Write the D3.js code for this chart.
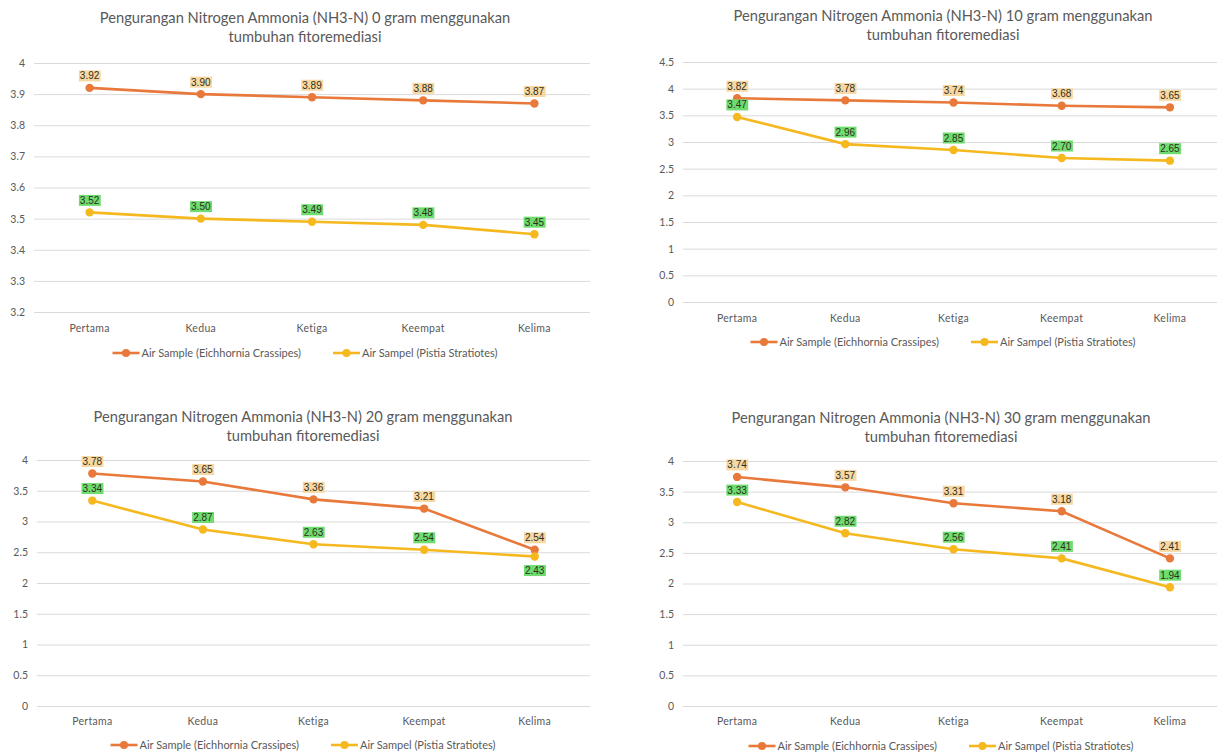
<!DOCTYPE html>
<html>
<head>
<meta charset="utf-8">
<script src="https://cdn.jsdelivr.net/npm/d3@7"></script>
<style>
  body { margin: 0; background: #fff; }
  svg { display: block; }
  text { font-family: Lato, "Open Sans", sans-serif; }
</style>
</head>
<body>
<svg id="chart"></svg>
<script>
// data
const categories = ["Pertama", "Kedua", "Ketiga", "Keempat", "Kelima"];
const seriesNames = ["Air Sample (Eichhornia Crassipes)", "Air Sampel (Pistia Stratiotes)"];
const doses = [0, 10, 20, 30];

const eichhornia0 = [3.92, 3.90, 3.89, 3.88, 3.87];
const pistia0 = [3.52, 3.50, 3.49, 3.48, 3.45];
const eichhornia10 = [3.82, 3.78, 3.74, 3.68, 3.65];
const pistia10 = [3.47, 2.96, 2.85, 2.70, 2.65];
const eichhornia20 = [3.78, 3.65, 3.36, 3.21, 2.54];
const pistia20 = [3.34, 2.87, 2.63, 2.54, 2.43];
const eichhornia30 = [3.74, 3.57, 3.31, 3.18, 2.41];
const pistia30 = [3.33, 2.82, 2.56, 2.41, 1.94];

const yTicks0 = [3.2, 3.3, 3.4, 3.5, 3.6, 3.7, 3.8, 3.9, 4];
const yTicks10 = [0, 0.5, 1, 1.5, 2, 2.5, 3, 3.5, 4, 4.5];
const yTicks20 = [0, 0.5, 1, 1.5, 2, 2.5, 3, 3.5, 4];
const yTicks30 = [0, 0.5, 1, 1.5, 2, 2.5, 3, 3.5, 4];

const W = 1217, H = 753;
const colors = ["#E8793A", "#F5B81E"];
const labelBg = ["#F7D8A2", "#6EDC6E"];

// layout of the four panels (pixels)
const panels = [
  {dose: doses[0], series: [eichhornia0, pistia0], ticks: yTicks0,
   left: 34, right: 590, top: 63, bottom: 312, titleX: 305, titleY: 18, catY: 328, legendY: 353},
  {dose: doses[1], series: [eichhornia10, pistia10], ticks: yTicks10,
   left: 683, right: 1224, top: 62, bottom: 302, titleX: 943, titleY: 16, catY: 318, legendY: 342},
  {dose: doses[2], series: [eichhornia20, pistia20], ticks: yTicks20,
   left: 37, right: 590, top: 460, bottom: 706, titleX: 303, titleY: 417, catY: 721, legendY: 745,
   below: [[1, 4]]},
  {dose: doses[3], series: [eichhornia30, pistia30], ticks: yTicks30,
   left: 683, right: 1224, top: 461, bottom: 706, titleX: 941, titleY: 418, catY: 721, legendY: 746}
];

const svg = d3.select("#chart").attr("width", W).attr("height", H);

panels.forEach(p => {
  const g = svg.append("g");

  const x = d3.scaleBand().domain(categories).range([p.left, p.right]);
  const y = d3.scaleLinear().domain(d3.extent(p.ticks)).range([p.bottom, p.top]);

  // title
  const title = g.append("text")
    .attr("x", p.titleX).attr("y", p.titleY)
    .attr("text-anchor", "middle")
    .style("font-size", "14.7px").attr("fill", "#595959");
  title.append("tspan").attr("x", p.titleX).attr("dy", "0.35em")
    .text(`Pengurangan Nitrogen Ammonia (NH3-N) ${p.dose} gram menggunakan`);
  title.append("tspan").attr("x", p.titleX).attr("dy", "1.3em")
    .text("tumbuhan fitoremediasi");

  // gridlines + y labels
  const yAxis = d3.axisLeft(y).tickValues(p.ticks).tickSize(-(p.right - p.left)).tickPadding(9)
    .tickFormat(d => d3.format("")(d));
  g.append("g")
    .attr("transform", `translate(${p.left},0)`)
    .call(yAxis)
    .call(a => a.select(".domain").remove())
    .call(a => a.selectAll("line").attr("stroke", "#DADADA").attr("stroke-width", 1))
    .call(a => a.selectAll("text").attr("fill", "#595959").style("font-size", "10.5px")
      .style("font-family", "Lato, sans-serif"));

  // x labels
  g.append("g")
    .selectAll("text")
    .data(categories)
    .join("text")
    .attr("x", d => x(d) + x.bandwidth() / 2)
    .attr("y", p.catY)
    .attr("dy", "0.35em")
    .attr("text-anchor", "middle")
    .attr("fill", "#595959")
    .style("font-size", "10.5px")
    .style("letter-spacing", "0.3px")
    .text(d => d);

  const line = d3.line()
    .x((d, i) => x(categories[i]) + x.bandwidth() / 2)
    .y(d => y(d));

  p.series.forEach((vals, s) => {
    g.append("path")
      .datum(vals)
      .attr("fill", "none")
      .attr("stroke", colors[s])
      .attr("stroke-width", 2.6)
      .attr("d", line);

    g.append("g")
      .selectAll("circle")
      .data(vals)
      .join("circle")
      .attr("cx", (d, i) => x(categories[i]) + x.bandwidth() / 2)
      .attr("cy", d => y(d))
      .attr("r", 4.2)
      .attr("fill", colors[s]);
  });

  // data labels with coloured boxes
  p.series.forEach((vals, s) => {
    vals.forEach((v, i) => {
      const isBelow = (p.below || []).some(b => b[0] === s && b[1] === i);
      const cx = x(categories[i]) + x.bandwidth() / 2;
      const cy = y(v) + (isBelow ? 14 : -12);
      const lg = g.append("g");
      const t = lg.append("text")
        .attr("x", cx).attr("y", cy)
        .attr("dy", "0.35em")
        .attr("text-anchor", "middle")
        .style("font-family", "'Liberation Sans', Arial, sans-serif")
        .style("font-size", "10px")
        .attr("fill", "#2f2f1f")
        .text(d3.format(".2f")(v));
      const bb = t.node().getBBox();
      lg.insert("rect", "text")
        .attr("x", bb.x - 1).attr("y", bb.y)
        .attr("width", bb.width + 2).attr("height", bb.height)
        .attr("fill", labelBg[s]);
    });
  });

  // legend
  const leg = g.append("g");
  let cursor = 0;
  seriesNames.forEach((name, s) => {
    const item = leg.append("g").attr("transform", `translate(${cursor},0)`);
    item.append("line").attr("x1", 0).attr("x2", 27).attr("y1", 0).attr("y2", 0)
      .attr("stroke", colors[s]).attr("stroke-width", 2.6);
    item.append("circle").attr("cx", 13.5).attr("cy", 0).attr("r", 4).attr("fill", colors[s]);
    const t = item.append("text").attr("x", 29).attr("y", 0).attr("dy", "0.35em")
      .attr("fill", "#595959").style("font-size", "11px").text(name);
    cursor += 29 + t.node().getComputedTextLength() + 32;
  });
  const lw = cursor - 32;
  leg.attr("transform", `translate(${p.titleX - lw / 2},${p.legendY})`);
});
</script>
</body>
</html>
